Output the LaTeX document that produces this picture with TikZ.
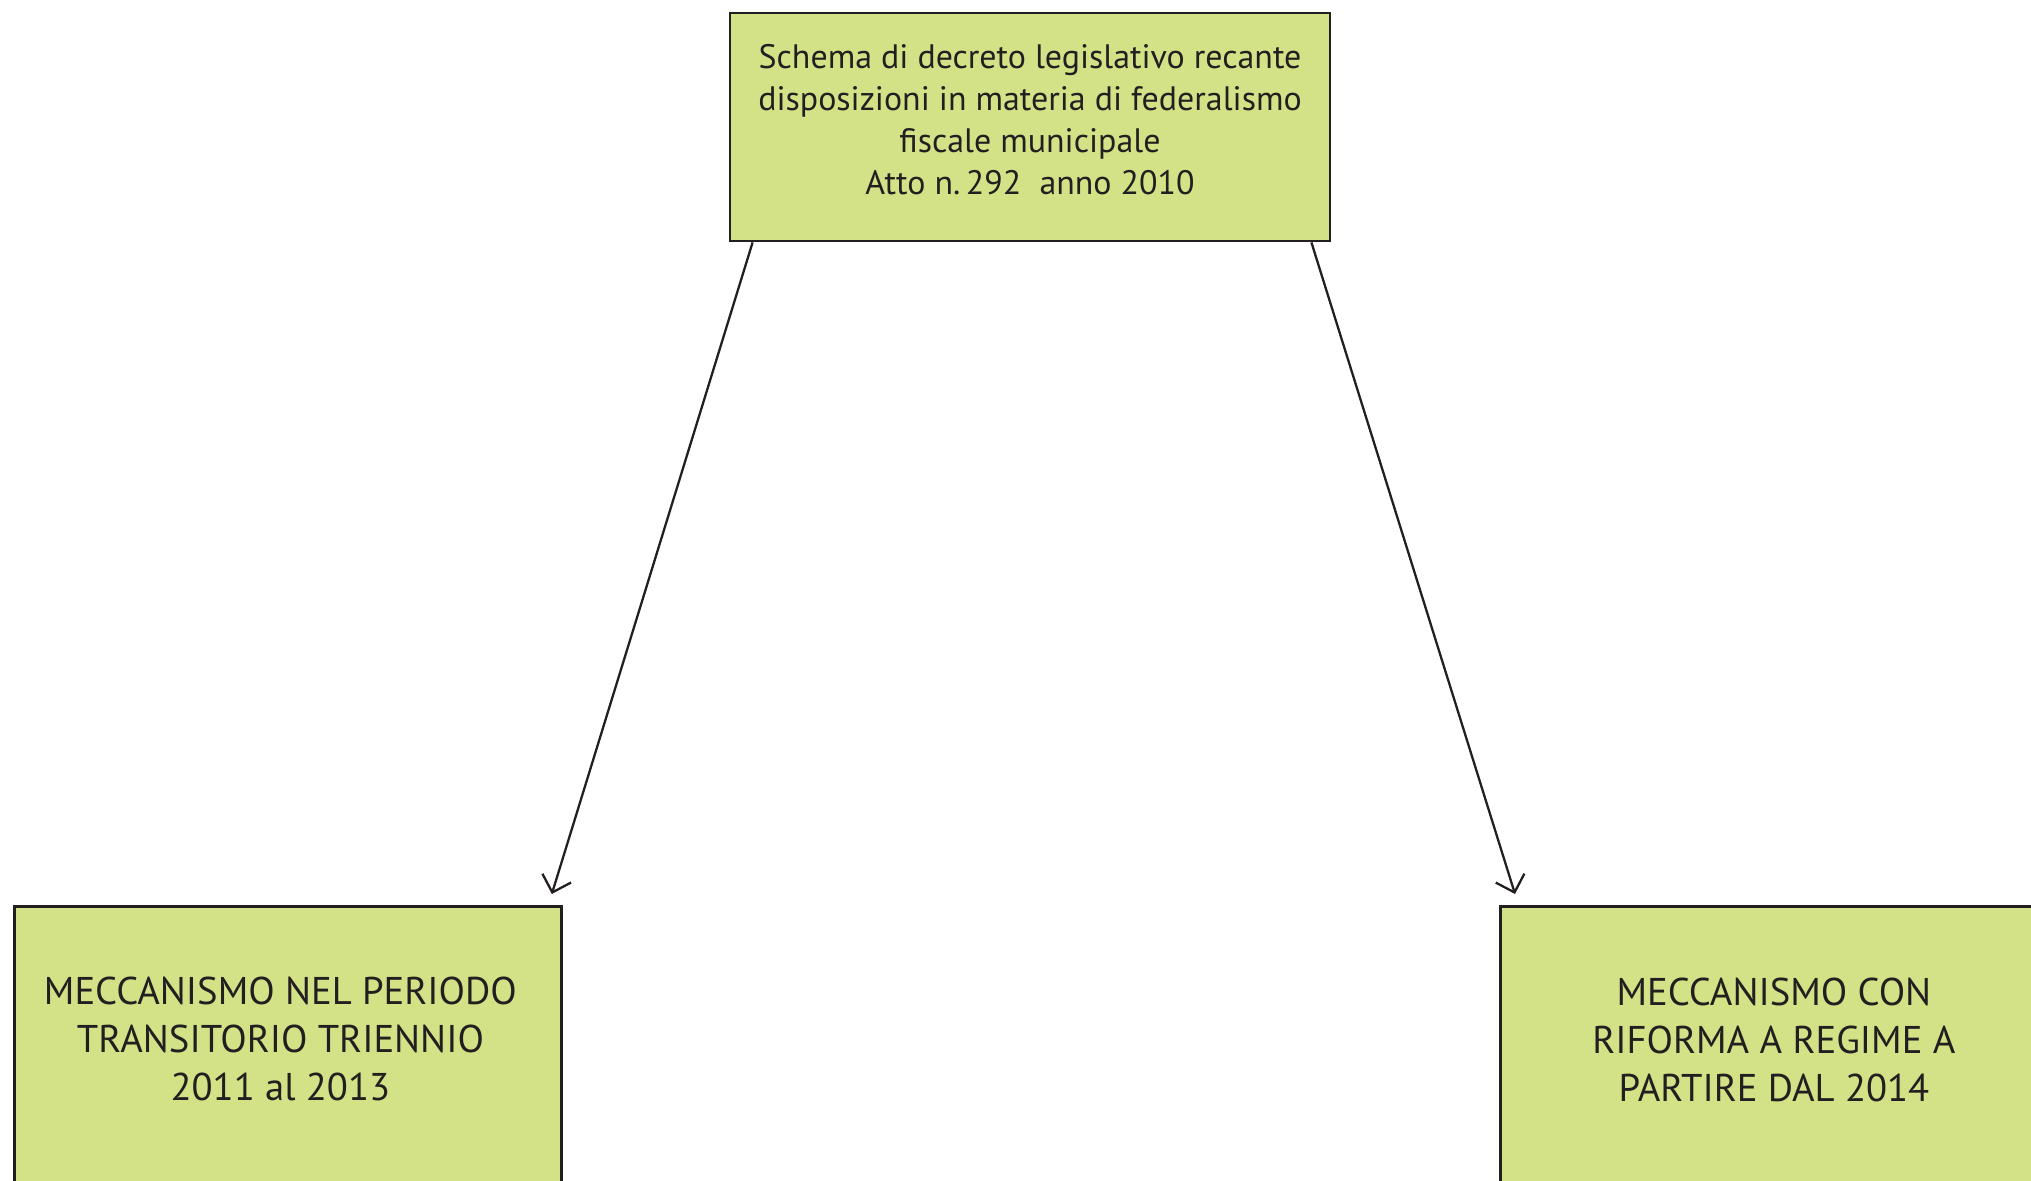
\documentclass[tikz,border=0pt]{standalone}
\usepackage{fontspec}
\setmainfont{PT Sans}
\usetikzlibrary{arrows.meta}

\definecolor{boxgreen}{RGB}{212,226,135}
\definecolor{inkdark}{RGB}{35,31,32}

\tikzset{
  box/.style={draw=inkdark, fill=boxgreen, line width=1.6pt, inner sep=0pt},
  boxtext/.style={align=center, text=inkdark},
  arrow/.style={draw=inkdark, line width=1.3pt, -{Straight Barb[length=3mm,width=6mm]}}
}

\begin{document}
\begin{tikzpicture}
  \useasboundingbox (0,0) rectangle (40.62,23.62);

  % Boxes
  \node[box, minimum width=12cm, minimum height=4.56cm] (atto) at (20.6,21.08) {};
  \node[boxtext, font=\fontsize{19.3}{23.8}\selectfont] (attotext) at ([yshift=0.15cm]atto.center)
        {Schema di decreto legislativo recante\\disposizioni in materia di federalismo\\fiscale municipale\\Atto n.\,292~ anno 2010};
  \node[box, minimum width=10.94cm, minimum height=7cm, anchor=north west] (transit) at (0.26,5.52) {};
  \node[box, minimum width=10.94cm, minimum height=7cm, anchor=north west] (regime) at (29.98,5.52) {};

  \node[boxtext, font=\fontsize{22}{27.3}\selectfont] (transittext) at ([xshift=-0.15cm,yshift=-2.68cm]transit.north)
        {MECCANISMO NEL PERIODO\\TRANSITORIO TRIENNIO\\2011 al 2013};
  \node[boxtext, font=\fontsize{22}{27.3}\selectfont] (regimetext) at ([yshift=-2.7cm]regime.north)
        {MECCANISMO CON\\RIFORMA A REGIME A\\PARTIRE DAL 2014};

  % Arrows
  \draw[arrow] ([xshift=0.48cm]atto.south west) -- ([xshift=-0.22cm,yshift=0.22cm]transit.north east);
  \draw[arrow] ([xshift=-0.4cm]atto.south east) -- ([xshift=0.32cm,yshift=0.22cm]regime.north west);
\end{tikzpicture}
\end{document}
